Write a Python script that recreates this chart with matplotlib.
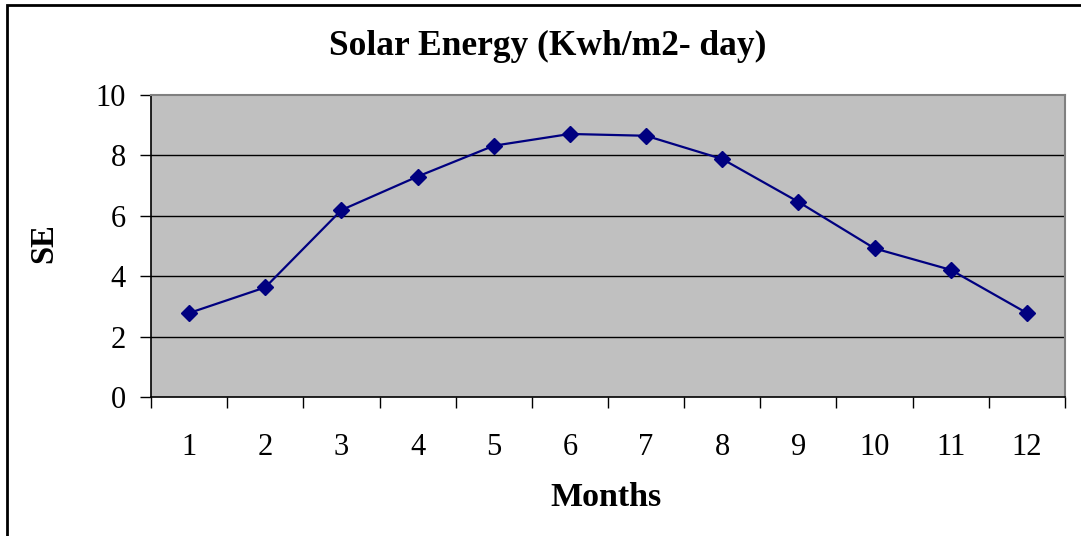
import numpy as np
import matplotlib.pyplot as plt
from matplotlib.patches import Rectangle

# dados
meses = [1, 2, 3, 4, 5, 6, 7, 8, 9, 10, 11, 12]
energia_solar = [2.78, 3.63, 6.19, 7.30, 8.32, 8.71, 8.65, 7.88, 6.46, 4.92, 4.21, 2.78]
y_ticks = [0, 2, 4, 6, 8, 10]

titulo = 'Solar Energy (Kwh/m2- day)'
rotulo_x = 'Months'
rotulo_y = 'SE'

plt.rcParams['font.family'] = ['Liberation Serif', 'DejaVu Serif']

W, H = 1081, 536
fig = plt.figure(figsize=(W / 100, H / 100), dpi=100)
ax = fig.add_axes([151 / W, 1 - 397 / H, (1065 - 151) / W, (397 - 95) / H])

ax.set_facecolor('#C0C0C0')
ax.set_xlim(0.5, 12.5)
ax.set_ylim(0, 10)

# grade horizontal
for v in y_ticks[1:-1]:
    ax.axhline(v, color='black', linewidth=1.0, zorder=1)

ax.plot(meses, energia_solar, color='#000080', linewidth=1.6,
        marker='D', markersize=8, markerfacecolor='#000080',
        markeredgecolor='#000080', zorder=3, clip_on=False)

# bordas
ax.spines['top'].set_color('#808080')
ax.spines['right'].set_color('#808080')
ax.spines['top'].set_linewidth(1.5)
ax.spines['right'].set_linewidth(1.5)
ax.spines['left'].set_color('black')
ax.spines['bottom'].set_color('black')
ax.spines['left'].set_linewidth(1.2)
ax.spines['bottom'].set_linewidth(1.2)

ax.set_yticks(y_ticks)
ax.set_yticklabels([str(v) for v in y_ticks], fontsize=22)
ax.tick_params(axis='y', direction='out', length=8, width=1, pad=10)

# ticks nas divisoes, rotulos no centro das categorias
ax.set_xticks(np.arange(0.5, 13, 1))
ax.set_xticklabels([])
ax.set_xticks(meses, minor=True)
ax.set_xticklabels([str(m) for m in meses], minor=True, fontsize=22)
ax.tick_params(axis='x', which='major', direction='out', length=8, width=1)
ax.tick_params(axis='x', which='minor', length=0, pad=26)

fig.text(548 / W, 1 - 46 / H, titulo, ha='center', va='center',
         fontsize=25.5, fontweight='bold')
fig.text(606 / W, 1 - 498 / H, rotulo_x, ha='center', va='center',
         fontsize=24.5, fontweight='bold')
fig.text(44 / W, 1 - 243 / H, rotulo_y, ha='center', va='center',
         fontsize=23.5, fontweight='bold', rotation=90)

# moldura externa
fig.patches.append(Rectangle((7 / W, -0.2), 1.2, 1 - 5 / H + 0.2,
                             transform=fig.transFigure, fill=False,
                             edgecolor='black', linewidth=2))

fig.savefig('out.png', dpi=100)
